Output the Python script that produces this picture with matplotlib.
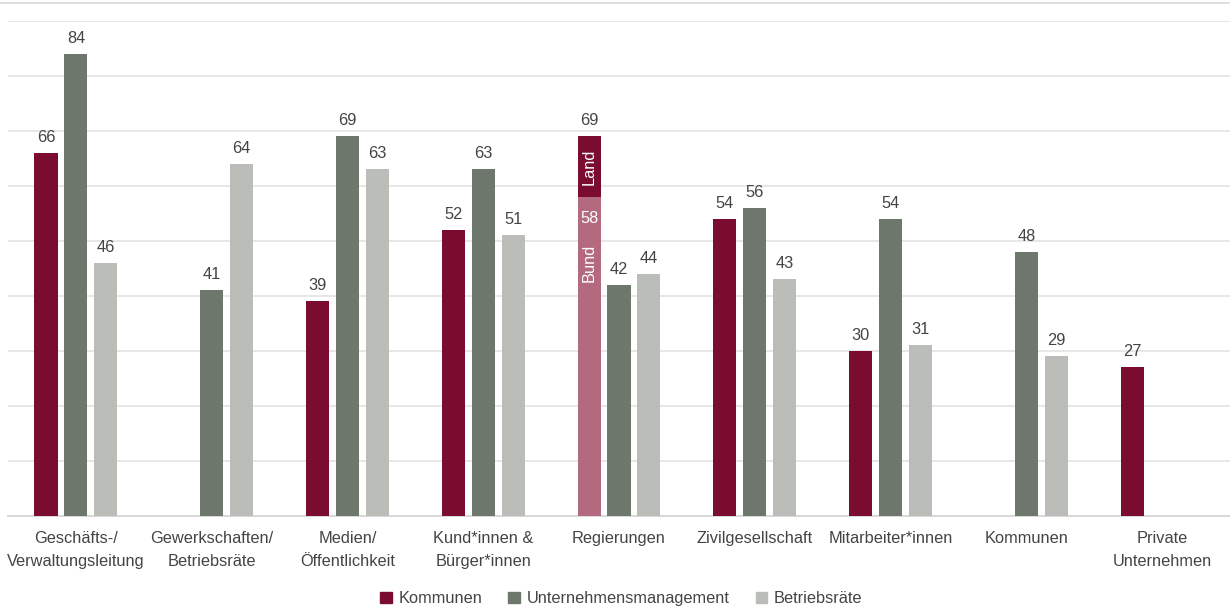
import numpy as np
import matplotlib.pyplot as plt
from matplotlib.lines import Line2D

plt.rcParams['font.family'] = ['Liberation Sans Narrow', 'Liberation Sans', 'DejaVu Sans']

kategorien = ['Geschäfts-/\nVerwaltungsleitung', 'Gewerkschaften/\nBetriebsräte',
              'Medien/\nÖffentlichkeit', 'Kund*innen &\nBürger*innen', 'Regierungen',
              'Zivilgesellschaft', 'Mitarbeiter*innen', 'Kommunen', 'Private\nUnternehmen']
kommunen = [66, None, 39, 52, None, 54, 30, None, 27]
management = [84, 41, 69, 63, 42, 56, 54, 48, None]
betriebsraete = [46, 64, 63, 51, 44, 43, 31, 29, None]
# Regierungen: Bund + Land (gestapelt)
bund = 58
land_gesamt = 69

serien = ['Kommunen', 'Unternehmensmanagement', 'Betriebsräte']
farben = ['#7A0C2F', '#6E776B', '#BBBDB8']
farbe_bund = '#B3697E'
textfarbe = '#444444'

fig = plt.figure(figsize=(12.3, 6.1), dpi=100)
ax = fig.add_axes([0.0065, 0.154, 0.9935, 0.812])

x = np.arange(len(kategorien))
breite = 0.17
abstand = 0.22
fs = 11.8

for werte, farbe, off in zip([kommunen, management, betriebsraete], farben, [-abstand, 0, abstand]):
    for i, v in enumerate(werte):
        if v is None:
            continue
        ax.bar(x[i] + off, v, breite, color=farbe, zorder=3)
        ax.text(x[i] + off, v + 1.5, str(v), ha='center', va='bottom',
                fontsize=fs, color=textfarbe)

# gestapelter Balken Regierungen
ir = kategorien.index('Regierungen')
xr = x[ir] - abstand
ax.bar(xr, bund, breite, color=farbe_bund, zorder=3)
ax.bar(xr, land_gesamt - bund, breite, bottom=bund, color=farben[0], zorder=3)
ax.text(xr, land_gesamt + 1.5, str(land_gesamt), ha='center', va='bottom',
        fontsize=fs, color=textfarbe)
ax.text(xr, bund - 4, str(bund), ha='center', va='center', fontsize=fs, color='white')
ax.text(xr, bund - 12, 'Bund', ha='center', va='center', rotation=90, fontsize=fs, color='white')
ax.text(xr, (bund + land_gesamt) / 2, 'Land', ha='center', va='center', rotation=90,
        fontsize=fs, color='white')

ax.set_xlim(-0.5, len(kategorien) - 0.5)
ax.set_ylim(0, 90)
ax.set_yticks(np.arange(0, 91, 10))
ax.yaxis.grid(True, color='#E3E3E3', linewidth=1.2, zorder=0)
ax.set_yticklabels([])
ax.tick_params(axis='y', length=0)
ax.tick_params(axis='x', length=0, pad=11)
ax.set_xticks(x)
ax.set_xticklabels(kategorien, fontsize=fs, color=textfarbe, linespacing=1.65)
for s in ['top', 'right', 'left']:
    ax.spines[s].set_visible(False)
ax.spines['bottom'].set_color('#D9D9D9')
ax.spines['bottom'].set_linewidth(1.5)
ax.set_axisbelow(True)

# obere Rahmenlinie
fig.add_artist(Line2D([0, 1], [0.995, 0.995], color='#D9D9D9', linewidth=1.2))

handles = [plt.Rectangle((0, 0), 1, 1, color=c) for c in farben]
fig.legend(handles, serien, loc='lower center', ncol=3, frameon=False,
           bbox_to_anchor=(0.505, -0.018), fontsize=fs, handlelength=0.7, handleheight=0.7,
           handletextpad=0.4, columnspacing=1.6, labelcolor=textfarbe)

fig.savefig('out.png', dpi=100)
